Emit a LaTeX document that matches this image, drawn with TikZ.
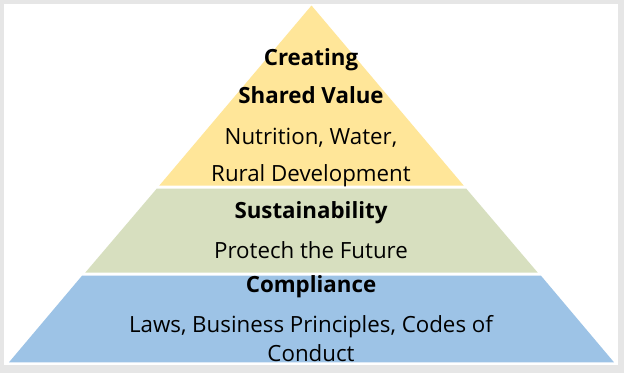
\documentclass[tikz,border=0pt]{standalone}
\usepackage{fontspec}
\setmainfont{Open Sans}
\definecolor{framegray}{HTML}{E6E6E6}
\definecolor{layeryellow}{HTML}{FFE699}
\definecolor{layergreen}{HTML}{D7DFBF}
\definecolor{layerblue}{HTML}{9DC3E6}
\begin{document}
\begin{tikzpicture}[x=1pt,y=-1pt,
  txt/.style={anchor=base,inner sep=0pt,font=\fontsize{22.3}{26}\selectfont,text=black},
  head/.style={txt,font=\fontsize{22.3}{26}\selectfont\bfseries}]
\useasboundingbox (0,0) rectangle (624,373);
\fill[framegray] (0,0) rectangle (624,373);
\fill[white] (4,4) rectangle (617.5,364.5);
% layers
\fill[layeryellow] (311.5,5.5) -- (463.8,185.7) -- (159.2,185.7) -- cycle;
\fill[layergreen] (156.7,188.7) -- (466.3,188.7) -- (537.8,272.7) -- (85.2,272.7) -- cycle;
\fill[layerblue] (82.2,275.5) -- (540.8,275.5) -- (614,362.3) -- (9,362.3) -- cycle;
% texts
\node[head] (t1) at (311,65) {Creating};
\node[head] (t2) at (311,103.3) {Shared Value};
\node[txt] (t3) at (311,144) {Nutrition, Water,};
\node[txt] (t4) at (311,181.7) {Rural Development};
\node[head] (s1) at (311,218) {Sustainability};
\node[txt] (s2) at (311,258) {Protech the Future};
\node[head] (c1) at (311,292.7) {Compliance};
\node[txt] (c2) at (311,332.7) {Laws, Business Principles, Codes of};
\node[txt] (c3) at (311,361.7) {Conduct};
\end{tikzpicture}
\end{document}
